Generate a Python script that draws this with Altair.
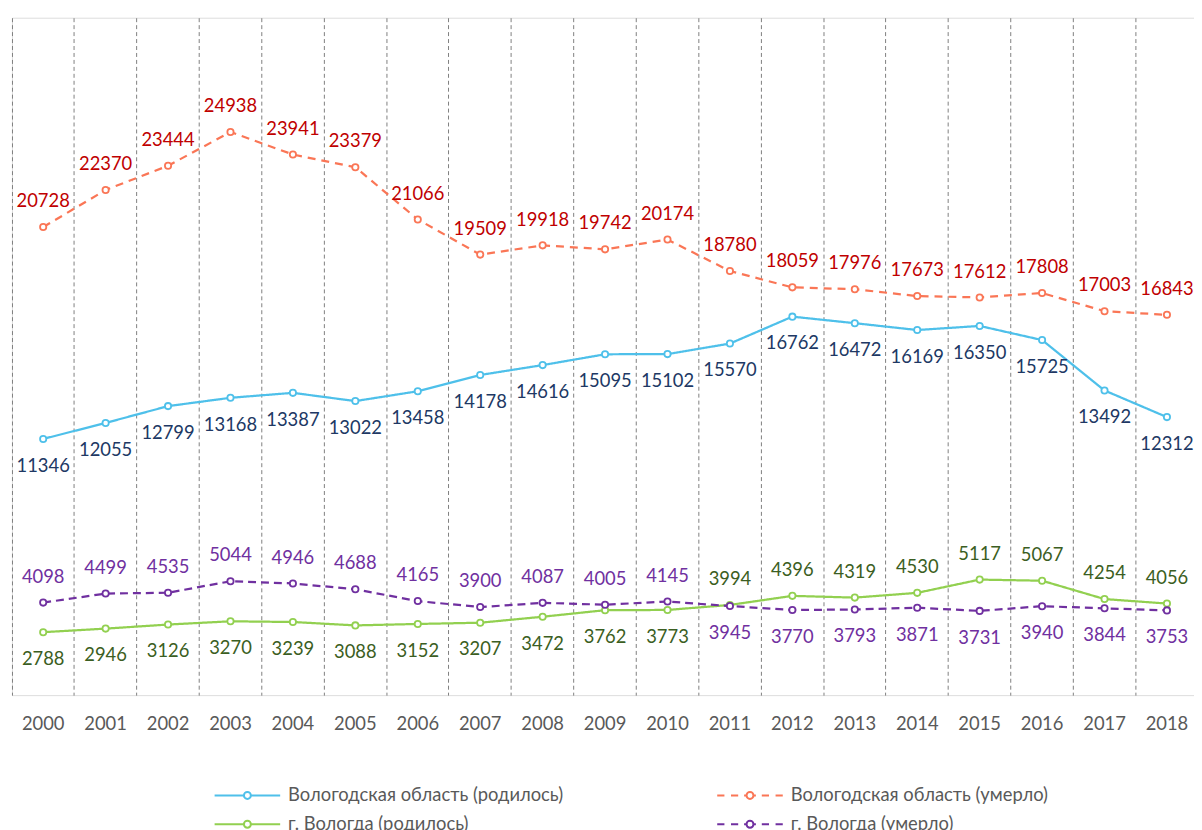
import altair as alt
import pandas as pd

years = [str(y) for y in range(2000, 2019)]
series_names = [
    "Вологодская область (родилось)",
    "Вологодская область (умерло)",
    "г. Вологда (родилось)",
    "г. Вологда (умерло)",
]
region_births = [11346, 12055, 12799, 13168, 13387, 13022, 13458, 14178, 14616, 15095,
                 15102, 15570, 16762, 16472, 16169, 16350, 15725, 13492, 12312]
region_deaths = [20728, 22370, 23444, 24938, 23941, 23379, 21066, 19509, 19918, 19742,
                 20174, 18780, 18059, 17976, 17673, 17612, 17808, 17003, 16843]
city_births = [2788, 2946, 3126, 3270, 3239, 3088, 3152, 3207, 3472, 3762,
               3773, 3994, 4396, 4319, 4530, 5117, 5067, 4254, 4056]
city_deaths = [4098, 4499, 4535, 5044, 4946, 4688, 4165, 3900, 4087, 4005,
               4145, 3945, 3770, 3793, 3871, 3731, 3940, 3844, 3753]

line_colors = ["#4EC0EA", "#FA7656", "#92D050", "#7030A0"]
label_colors = ["#203864", "#C00000", "#3B5E22", "#7030A0"]
dashes = [[1, 0], [8, 6], [1, 0], [8, 5]]

# legend glyphs: line with small open circle in the middle (unit coords)
r = 0.106
circ = f"M{-r},0A{r},{r},0,1,1,{r},0A{r},{r},0,1,1,{-r},0"
solid_path = f"M-1,0L{-r},0M{r},0L1,0" + circ
dash_path = (f"M-1,0L-0.78,0M-0.58,0L-0.36,0M-0.18,0L{-r},0"
             f"M{r},0L0.18,0M0.36,0L0.58,0M0.78,0L1,0") + circ
legend_paths = [solid_path, dash_path, solid_path, dash_path]

series_values = [region_births, region_deaths, city_births, city_deaths]
rows = []
for s_idx, (name, vals) in enumerate(zip(series_names, series_values)):
    partner = series_values[s_idx ^ 1]
    for i, y in enumerate(years):
        rows.append({"year": y, "series": name, "value": vals[i],
                     "above": bool(vals[i] >= partner[i])})
df = pd.DataFrame(rows)

FONT = "Lato, Open Sans, sans-serif"
FS = 18.5

x = alt.X("year:O",
          scale=alt.Scale(type="band", range=[0, 1194.2], paddingInner=0, paddingOuter=0),
          axis=alt.Axis(title=None, bandPosition=0, grid=True,
                        gridDash=[4, 3], gridColor="#7F7F7F", gridWidth=1,
                        ticks=False, domain=False, labelAngle=0,
                        labelFontSize=FS, labelColor="#595959", labelFont=FONT,
                        labelPadding=20))
y = alt.Y("value:Q", scale=alt.Scale(domain=[0, 30000], nice=False, zero=True), axis=None)

base = alt.Chart(df)

lines = base.mark_line(strokeWidth=2.25).encode(
    x=x, y=y,
    stroke=alt.Stroke("series:N", sort=series_names, scale=alt.Scale(range=line_colors), legend=None),
    strokeDash=alt.StrokeDash("series:N", sort=series_names, scale=alt.Scale(range=dashes), legend=None),
)

points = base.mark_point(filled=False, fill="white", size=40, strokeWidth=1.8, opacity=1).encode(
    x=x, y=y,
    stroke=alt.Stroke("series:N", sort=series_names, scale=alt.Scale(range=line_colors), legend=None),
)

legend_props = dict(title=None, orient="none", legendX=203, legendY=773,
                    direction="horizontal", columns=2, columnPadding=153, rowPadding=9,
                    clipHeight=20,
                    labelFontSize=FS, labelColor="#595959", labelFont=FONT, labelLimit=600,
                    symbolSize=4356, symbolStrokeWidth=2, labelOffset=7,
                    padding=0)

legend_layer = base.transform_filter("false").mark_point(
    filled=False, fill="white", strokeWidth=2, opacity=1
).encode(
    x=x, y=y,
    color=alt.Color("series:N", scale=alt.Scale(domain=series_names, range=line_colors),
                    legend=alt.Legend(**legend_props)),
    shape=alt.Shape("series:N", scale=alt.Scale(domain=series_names, range=legend_paths),
                    legend=alt.Legend(**legend_props)),
)

label_fill = alt.Fill("series:N", sort=series_names, scale=alt.Scale(range=label_colors), legend=None)

labels_above = base.transform_filter("datum.above").mark_text(
    dy=-26, fontSize=FS, font=FONT
).encode(x=x, y=y, text=alt.Text("value:Q", format="d"), fill=label_fill)

labels_below = base.transform_filter("!datum.above").mark_text(
    dy=27, fontSize=FS, font=FONT
).encode(x=x, y=y, text=alt.Text("value:Q", format="d"), fill=label_fill)

chart = alt.layer(lines, points, labels_above, labels_below, legend_layer).properties(
    width=1190, height=682,
    autosize=alt.AutoSizeParams(type="none"),
    padding={"left": 4, "top": 7, "right": 0, "bottom": 133},
).configure_view(stroke=None).configure(font=FONT)

chart.save("out.html", embed_options={"renderer": "svg", "actions": False})
